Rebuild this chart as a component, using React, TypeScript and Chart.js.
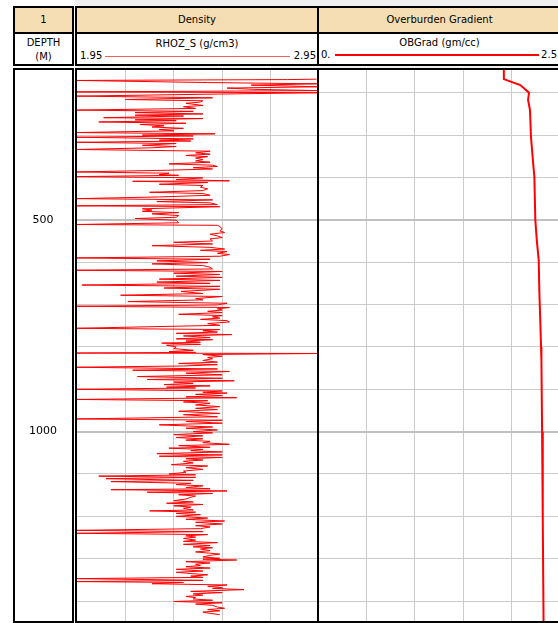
import React, { useEffect, useRef } from 'react';
import { Chart, registerables } from 'chart.js';

Chart.register(...registerables);

// ---------- data ----------
const depthMin = 144;
const depthMax = 1447;
const depthGrid = [200, 300, 400, 500, 600, 700, 800, 900, 1000, 1100, 1200, 1300, 1400];
const depthLabels = [500, 1000];

const rhozMin = 1.95;
const rhozMax = 2.95;
const rhozGrid = [2.15, 2.35, 2.55, 2.75];

const obMin = 0;
const obMax = 2.5;
const obGrid = [0.5, 1.0, 1.5, 2.0];

const rhozDepth = [
  168, 169, 171, 176, 179, 182, 186, 189, 192, 195,
  198, 200, 203, 208, 212, 216, 219, 222, 225, 230,
  233, 237, 241, 244, 247, 250, 253, 255, 259, 261,
  264, 266, 269, 272, 275, 278, 281, 284, 287, 290,
  294, 297, 300, 302, 305, 309, 312, 314, 317, 320,
  324, 327, 330, 334, 338, 342, 345, 348, 351, 354,
  358, 361, 364, 368, 371, 374, 377, 380, 383, 387,
  390, 393, 395, 398, 401, 405, 408, 409, 412, 416,
  419, 423, 427, 431, 435, 438, 442, 446, 450, 453,
  457, 460, 464, 467, 469, 474, 477, 480, 483, 486,
  490, 494, 497, 501, 507, 511, 513, 516, 521, 526,
  530, 534, 538, 542, 545, 550, 553, 557, 561, 565,
  569, 572, 575, 579, 582, 586, 590, 593, 597, 601,
  604, 608, 612, 616, 619, 622, 626, 629, 633, 636,
  640, 643, 647, 650, 654, 657, 661, 664, 669, 674,
  678, 681, 686, 689, 693, 697, 701, 704, 707, 710,
  713, 716, 719, 723, 726, 729, 732, 735, 738, 741,
  745, 749, 756, 759, 762, 765, 768, 771, 774, 778,
  781, 783, 786, 789, 791, 794, 796, 800, 804, 808,
  811, 813, 814.5, 815.5, 818, 822, 825, 828, 832, 836,
  839, 842, 845, 848, 852, 855, 858, 862, 866, 870,
  874, 877, 880, 883, 886, 889, 892, 895, 897, 900,
  904, 907, 909, 912, 915, 918, 920, 924, 927, 930,
  933, 937, 941, 945, 948, 952, 957, 960, 965, 970,
  973, 976, 980, 984, 989, 992, 996, 1000, 1003, 1007,
  1010, 1014, 1017, 1020, 1023, 1026, 1030, 1033, 1037, 1039,
  1042, 1045, 1048, 1052, 1055, 1058, 1061, 1064, 1067, 1070,
  1074, 1078, 1081, 1085, 1089, 1093, 1096, 1100, 1102, 1105,
  1108, 1111, 1115, 1118, 1122, 1125, 1128, 1132, 1135, 1137,
  1140, 1143, 1146, 1149, 1152, 1155, 1159, 1163, 1166, 1169,
  1172, 1175, 1178, 1181, 1185, 1187, 1190, 1193, 1196, 1200,
  1201, 1204, 1207, 1211, 1214, 1218, 1222, 1225, 1229, 1233,
  1236, 1240, 1243, 1246, 1249, 1252, 1256, 1259, 1262, 1266,
  1269, 1272, 1274, 1277, 1281, 1284, 1287, 1289, 1292, 1296,
  1299, 1301, 1303, 1307, 1310, 1313, 1316, 1319, 1322, 1325,
  1329, 1332, 1335, 1338, 1341, 1344, 1347, 1351, 1354, 1356,
  1359, 1362, 1365, 1368, 1370, 1373, 1377, 1380, 1383, 1386,
  1389, 1392, 1395, 1398, 1401, 1404, 1407, 1410, 1414, 1417,
  1420, 1423, 1426, 1429, 1432,
];

const rhozValue = [
  2.94, 2.82, 1.95, 2.49, 2.95, 2.67, 2.95, 2.57, 2.68, 2.95,
  1.95, 2.95, 2.55, 1.95, 2.51, 2.15, 2.47, 2.46, 2.40, 2.47,
  2.39, 2.44, 1.95, 2.43, 2.19, 2.47, 2.19, 2.39, 2.06, 2.47,
  2.19, 2.36, 2.04, 2.40, 2.21, 2.31, 2.26, 2.39, 2.29, 2.35,
  1.95, 2.52, 2.22, 2.43, 1.95, 2.43, 2.29, 2.42, 1.95, 2.36,
  2.22, 2.36, 2.26, 1.95, 2.50, 2.44, 2.50, 2.40, 2.49, 2.44,
  2.47, 2.44, 2.50, 2.33, 2.51, 2.53, 2.43, 2.51, 2.32, 1.95,
  2.33, 2.29, 2.37, 1.95, 2.47, 2.36, 2.58, 2.18, 2.49, 2.29,
  2.47, 2.46, 2.49, 2.47, 2.25, 2.47, 2.50, 2.29, 1.95, 2.51,
  2.28, 2.50, 2.53, 1.95, 2.54, 2.22, 2.26, 2.22, 2.37, 2.26,
  2.37, 2.36, 2.19, 2.36, 2.37, 1.95, 2.53, 2.54, 2.55, 2.54,
  2.56, 2.50, 2.53, 2.55, 2.50, 2.51, 2.35, 2.51, 2.26, 2.50,
  2.56, 2.46, 2.57, 2.53, 2.58, 2.54, 1.95, 2.50, 2.28, 2.49,
  2.26, 2.47, 2.50, 2.51, 1.95, 2.55, 2.35, 2.54, 2.36, 2.55,
  2.29, 2.54, 2.28, 2.50, 1.97, 2.54, 2.31, 2.54, 2.38, 2.47,
  2.13, 2.55, 2.44, 2.47, 2.16, 2.57, 2.53, 1.95, 2.58, 2.53,
  2.55, 2.49, 2.55, 2.37, 2.55, 2.51, 2.54, 2.46, 2.57, 2.58,
  2.49, 2.54, 1.95, 2.54, 2.47, 2.53, 2.36, 2.59, 2.39, 2.50,
  2.36, 2.51, 2.40, 2.46, 2.30, 2.46, 2.32, 2.36, 2.35, 2.43,
  2.33, 2.44, 1.95, 2.95, 2.47, 2.55, 2.49, 2.51, 2.47, 2.53,
  2.37, 2.53, 2.39, 1.95, 2.53, 2.18, 2.58, 2.40, 2.55, 2.20,
  2.55, 2.24, 2.60, 2.35, 2.43, 2.31, 2.50, 2.32, 2.44, 1.95,
  2.55, 2.47, 2.57, 2.44, 2.55, 2.40, 2.61, 1.95, 2.49, 2.39,
  2.50, 2.44, 2.54, 2.44, 2.53, 2.37, 2.54, 2.39, 2.53, 1.95,
  2.55, 2.40, 2.55, 2.29, 2.51, 2.40, 2.53, 2.43, 2.51, 2.35,
  2.47, 2.36, 2.47, 2.40, 2.50, 2.47, 2.58, 2.37, 2.50, 2.33,
  2.47, 2.42, 2.55, 2.28, 2.55, 2.29, 2.55, 2.40, 2.47, 2.39,
  2.43, 2.34, 2.49, 2.40, 2.47, 2.39, 2.40, 2.33, 2.44, 2.04,
  2.44, 2.07, 2.43, 2.09, 2.42, 2.36, 2.47, 2.40, 2.50, 2.09,
  2.57, 2.24, 2.51, 2.37, 2.44, 2.42, 2.40, 2.35, 2.43, 2.32,
  2.47, 2.35, 2.42, 2.39, 2.43, 2.25, 2.44, 2.36, 2.46, 2.36,
  2.40, 2.49, 2.40, 2.56, 2.44, 2.55, 2.44, 2.50, 2.46, 1.95,
  2.47, 1.95, 2.49, 2.40, 2.44, 2.39, 2.44, 2.39, 2.53, 2.39,
  2.50, 2.43, 2.51, 2.46, 2.50, 2.44, 2.50, 2.54, 2.50, 2.47,
  2.54, 2.47, 2.61, 2.40, 2.50, 2.44, 2.46, 2.40, 2.50, 2.36,
  2.47, 2.36, 2.42, 2.49, 2.42, 2.47, 1.95, 2.47, 1.95, 2.39,
  2.26, 2.57, 2.49, 2.55, 2.51, 2.64, 2.42, 2.55, 2.43, 2.47,
  2.40, 2.44, 2.43, 2.51, 2.35, 2.55, 2.44, 2.51, 2.53, 2.56,
  2.49, 2.54, 2.47, 2.50, 2.54,
];

const obDepth = [146, 168, 182, 200, 217, 241, 304, 359, 398, 500, 548, 595, 673, 744, 800, 831, 1000, 1210, 1447];
const obValue = [1.92, 1.92, 2.09, 2.18, 2.17, 2.19, 2.2, 2.22, 2.235, 2.245, 2.26, 2.28, 2.287, 2.297, 2.304, 2.308, 2.315, 2.322, 2.33];

// ---------- styling ----------
const FONT = '"DejaVu Sans", Verdana, sans-serif';
const TAN = '#f5deb3';
const GRID = '#cbcbcb';
const GRID_MAJOR = '#c0c0c0';

function depthScale(showLabels: boolean, axisWidth: number, labelPadding: number): any {
  return {
    type: 'linear',
    position: 'left',
    reverse: true,
    min: depthMin,
    max: depthMax,
    afterBuildTicks: (s: any) => {
      s.ticks = depthGrid.map((v) => ({ value: v }));
    },
    afterFit: (s: any) => {
      s.width = axisWidth;
      s.paddingTop = 0;
      s.paddingBottom = 0;
      s.paddingLeft = 0;
      s.paddingRight = 0;
    },
    border: { display: false },
    grid: {
      drawTicks: false,
      color: (c: any) => (c.tick && depthLabels.includes(c.tick.value) ? GRID_MAJOR : GRID),
      lineWidth: (c: any) => (c.tick && depthLabels.includes(c.tick.value) ? 2 : 1),
    },
    ticks: {
      display: showLabels,
      autoSkip: false,
      padding: labelPadding,
      crossAlign: 'center',
      color: '#000',
      font: { family: FONT, size: 11 },
      callback: (v: any) => (depthLabels.includes(Number(v)) ? String(v) : ''),
    },
  };
}

function valueScale(min: number, max: number, grid: number[]): any {
  return {
    type: 'linear',
    position: 'bottom',
    min,
    max,
    afterBuildTicks: (s: any) => {
      s.ticks = grid.map((v) => ({ value: v }));
    },
    afterFit: (s: any) => {
      s.height = 0;
      s.paddingTop = 0;
      s.paddingBottom = 0;
      s.paddingLeft = 0;
      s.paddingRight = 0;
    },
    border: { display: false },
    grid: { drawTicks: false, color: GRID, lineWidth: 1 },
    ticks: { display: false },
  };
}

function TrackChart(props: {
  left: number;
  top: number;
  width: number;
  height: number;
  depth: number[];
  values: number[];
  min: number;
  max: number;
  grid: number[];
  lineWidth: number;
  axisWidth: number;
  showDepth: boolean;
}) {
  const ref = useRef<HTMLCanvasElement | null>(null);
  useEffect(() => {
    if (!ref.current) return;
    const chart = new Chart(ref.current, {
      type: 'scatter',
      data: {
        datasets: [
          {
            data: props.depth.map((d, i) => ({ x: props.values[i], y: d })),
            showLine: true,
            borderColor: '#ff0000',
            borderWidth: props.lineWidth,
            pointRadius: 0,
            fill: false,
            tension: 0,
          } as any,
        ],
      },
      options: {
        animation: false,
        responsive: false,
        maintainAspectRatio: false,
        events: [],
        layout: { padding: 0, autoPadding: false },
        plugins: { legend: { display: false }, tooltip: { enabled: false } },
        scales: {
          x: valueScale(props.min, props.max, props.grid),
          y: depthScale(props.showDepth, props.axisWidth, 20),
        },
      } as any,
    });
    return () => chart.destroy();
  }, []);
  return (
    <canvas
      ref={ref}
      width={props.width}
      height={props.height}
      style={{ position: 'absolute', left: props.left, top: props.top, width: props.width, height: props.height }}
    />
  );
}

const abs = (s: React.CSSProperties): React.CSSProperties => ({ position: 'absolute', boxSizing: 'border-box', ...s });

function HeaderCell(props: { left: number; width: number; title: string; children: React.ReactNode }) {
  return (
    <div style={abs({ left: props.left, top: 6, width: props.width, height: 60, border: '2px solid #000', background: '#fff', overflow: 'hidden' })}>
      <div style={{ height: 26, boxSizing: 'border-box', background: TAN, borderBottom: '2px solid #000', textAlign: 'center', lineHeight: '24px' }}>
        {props.title}
      </div>
      <div style={{ position: 'relative', height: 30 }}>{props.children}</div>
    </div>
  );
}

function Frame(props: { left: number; width: number }) {
  return <div style={abs({ left: props.left, top: 68, width: props.width, height: 555, border: '2px solid #000', pointerEvents: 'none' })} />;
}

export default function App() {
  const small: React.CSSProperties = { position: 'absolute', lineHeight: '14px', whiteSpace: 'nowrap' };
  return (
    <div
      style={{
        position: 'fixed',
        left: 0,
        top: 0,
        width: 558,
        height: 623,
        overflow: 'hidden',
        background: '#fff',
        fontFamily: FONT,
        fontSize: 10,
        color: '#000',
      }}
    >
      <div style={abs({ left: 75, top: 0, width: 483, height: 7, background: '#efefef' })} />
      <div style={abs({ left: 75, top: 66, width: 483, height: 3, background: '#efefef' })} />

      <TrackChart
        left={13}
        top={69}
        width={306}
        height={552}
        depth={rhozDepth}
        values={rhozValue}
        min={rhozMin}
        max={rhozMax}
        grid={rhozGrid}
        lineWidth={1}
        axisWidth={64}
        showDepth={true}
      />
      <TrackChart
        left={318}
        top={69}
        width={242}
        height={552}
        depth={obDepth}
        values={obValue}
        min={obMin}
        max={obMax}
        grid={obGrid}
        lineWidth={2}
        axisWidth={0}
        showDepth={false}
      />

      <Frame left={13} width={61} />
      <Frame left={75} width={244} />
      <Frame left={317} width={245} />

      <HeaderCell left={13} width={61} title="1">
        <div style={{ textAlign: 'center', lineHeight: '14px', paddingTop: 2 }}>
          <div>DEPTH</div>
          <div>(M)</div>
        </div>
      </HeaderCell>

      <HeaderCell left={75} width={244} title="Density">
        <div style={{ ...small, left: 0, right: 0, top: 3, textAlign: 'center' }}>RHOZ_S (g/cm3)</div>
        <div style={{ ...small, left: 3, top: 15 }}>{rhozMin.toFixed(2)}</div>
        <div style={{ ...small, right: 1, top: 15 }}>{rhozMax.toFixed(2)}</div>
        <div style={{ position: 'absolute', left: 28, width: 185, top: 22, height: 1, background: '#f06060' }} />
      </HeaderCell>

      <HeaderCell left={317} width={245} title="Overburden Gradient">
        <div style={{ ...small, left: 0, right: 0, top: 2, textAlign: 'center' }}>OBGrad (gm/cc)</div>
        <div style={{ ...small, left: 2, top: 14 }}>0.</div>
        <div style={{ ...small, right: 3, top: 14 }}>{String(obMax)}</div>
        <div style={{ position: 'absolute', left: 16, width: 204, top: 20, height: 2, background: '#ff0000' }} />
      </HeaderCell>
    </div>
  );
}
